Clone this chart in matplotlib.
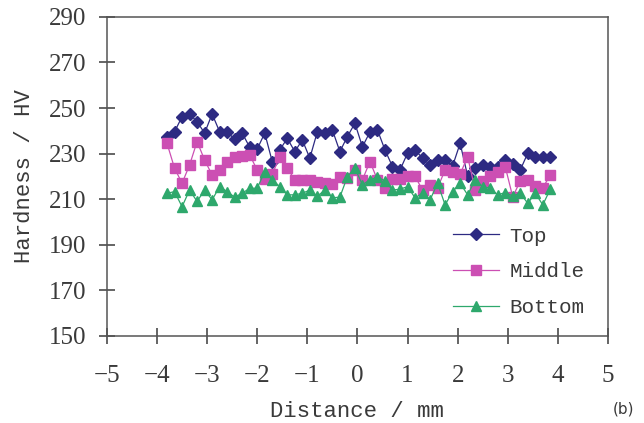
import matplotlib
matplotlib.use("Agg")
import matplotlib.pyplot as plt

# measurement positions along the weld (mm)
distance = [-3.80, -3.65, -3.50, -3.35, -3.20, -3.05, -2.90, -2.75, -2.60, -2.45,
            -2.30, -2.15, -2.00, -1.85, -1.70, -1.55, -1.40, -1.25, -1.10, -0.95,
            -0.80, -0.65, -0.50, -0.35, -0.20, -0.05, 0.10, 0.25, 0.40, 0.55,
            0.70, 0.85, 1.00, 1.15, 1.30, 1.45, 1.60, 1.75, 1.90, 2.05,
            2.20, 2.35, 2.50, 2.65, 2.80, 2.95, 3.10, 3.25, 3.40, 3.55,
            3.70, 3.85]

top = [237.5, 239.6, 246.2, 247.4, 244.0, 239.0, 247.4, 239.6, 239.6, 236.3,
       239.0, 232.8, 232.0, 239.0, 226.5, 231.6, 236.7, 230.9, 236.0, 228.0,
       239.6, 239.0, 240.4, 230.9, 237.5, 243.3, 233.0, 239.5, 240.4, 231.6,
       224.3, 222.8, 230.2, 231.6, 228.0, 225.0, 227.0, 227.2, 224.6, 234.5,
       220.2, 223.6, 225.0, 224.3, 224.0, 227.2, 225.5, 222.8, 230.2, 228.7,
       228.7, 228.4]

middle = [234.5, 223.6, 217.0, 225.0, 235.3, 227.2, 220.6, 222.8, 226.5, 228.7,
          229.0, 229.4, 222.8, 219.0, 221.0, 228.5, 223.6, 218.5, 218.5, 218.5,
          217.7, 217.0, 216.7, 219.6, 219.2, 222.8, 218.5, 226.5, 218.5, 215.0,
          219.0, 219.0, 220.0, 220.0, 214.0, 216.3, 215.0, 222.8, 222.0, 221.0,
          228.7, 214.0, 218.0, 220.0, 222.0, 224.3, 211.0, 218.0, 218.5, 216.0,
          215.0, 220.6]

bottom = [212.6, 213.3, 206.7, 214.0, 209.0, 214.0, 209.7, 215.5, 213.3, 210.9,
          212.6, 214.8, 214.8, 222.1, 218.5, 215.5, 211.9, 211.9, 212.6, 214.0,
          211.3, 214.0, 210.6, 210.9, 219.9, 223.6, 216.3, 218.5, 219.6, 218.1,
          214.0, 214.4, 215.5, 210.6, 212.6, 209.7, 217.0, 207.5, 213.3, 217.0,
          211.9, 218.5, 215.5, 214.8, 211.9, 212.9, 211.4, 212.6, 208.2, 212.6,
          207.5, 214.4]

x_ticks = [-5, -4, -3, -2, -1, 0, 1, 2, 3, 4, 5]
y_ticks = [150, 170, 190, 210, 230, 250, 270, 290]

mono = "Liberation Mono"
serif = "Liberation Serif"
ink = "#3a3a3a"

fig = plt.figure(figsize=(6.44, 4.23), dpi=100)
ax = fig.add_axes([0.166, 0.206, 0.778, 0.754])

ax.plot(distance, top, color="#2d2a82", marker="D", markersize=6.5, lw=0.9, label="Top")
ax.plot(distance, middle, color="#cc4fb3", marker="s", markersize=6.5, lw=0.9, label="Middle")
ax.plot(distance, bottom, color="#2ea86c", marker="^", markersize=7, lw=0.9, label="Bottom")

ax.set_xlim(-5, 5)
ax.set_ylim(150, 290)
ax.set_xticks(x_ticks)
ax.set_yticks(y_ticks)
ax.set_xticklabels(["\u2212%d" % -t if t < 0 else str(t) for t in x_ticks],
                   fontfamily=serif, fontsize=18, color=ink)
ax.set_yticklabels([str(t) for t in y_ticks], fontfamily=serif, fontsize=18, color=ink)
ax.tick_params(direction="inout", length=12, width=1.1, color=ink)
ax.tick_params(axis="x", pad=15)
ax.tick_params(axis="y", pad=9)

for s in ax.spines.values():
    s.set_color("#555555")
    s.set_linewidth(1.1)

ax.set_xlabel("Distance / mm", fontfamily=mono, fontsize=16, color=ink, labelpad=10)
ax.set_ylabel("Hardness / HV", fontfamily=mono, fontsize=16, color=ink, labelpad=10)

leg = ax.legend(loc="lower right", bbox_to_anchor=(0.99, 0.0), frameon=False,
                prop={"family": mono, "size": 15}, handlelength=2.2,
                labelspacing=0.8, handletextpad=0.5)
for t in leg.get_texts():
    t.set_color(ink)

fig.text(0.985, 0.015, "(b)", fontsize=11, color=ink, ha="right", va="bottom")

fig.savefig("out.png", dpi=100)
